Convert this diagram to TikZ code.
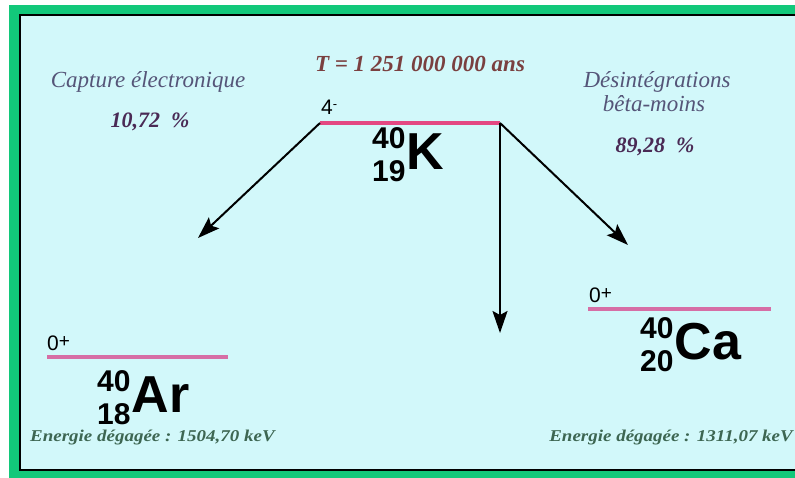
\documentclass[tikz,border=0pt]{standalone}
\usepackage{fontspec}
\setmainfont{Liberation Serif}
\setsansfont{Liberation Sans}
\newfontfamily\wideserif[FakeStretch=1.15]{Liberation Serif}
\usetikzlibrary{arrows.meta,positioning}

\definecolor{framegreen}{RGB}{18,200,122}
\definecolor{bgcyan}{RGB}{210,248,250}
\definecolor{kpink}{RGB}{228,72,130}
\definecolor{levelpink}{RGB}{214,110,165}
\definecolor{modeblue}{RGB}{85,85,120}
\definecolor{ratepurple}{RGB}{74,42,85}
\definecolor{titlebrown}{RGB}{122,64,64}
\definecolor{energygreen}{RGB}{61,102,82}

% noyau : masse / numero atomique / symbole
\newcommand{\nuclide}[3]{{\fontsize{30}{30}\selectfont\raisebox{21pt}{#1}\llap{\raisebox{-12pt}{#2}}}\kern1pt{\fontsize{52}{52}\selectfont #3}}

\begin{document}
\begin{tikzpicture}[
    x=1pt, y=1pt,
    node distance=4pt,
    level/.style={line width=3.5pt, draw=levelpink},
    klevel/.style={line width=3.5pt, draw=kpink},
    decay/.style={-{Stealth[length=22pt,width=15pt,inset=4pt]}, line width=2pt},
    nucl/.style={inner sep=0pt, anchor=base west, font=\sffamily\bfseries},
    spin/.style={inner sep=0pt, anchor=base west, font=\sffamily\fontsize{21}{21}\selectfont},
    mode/.style={inner sep=0pt, anchor=base, text=modeblue, font=\itshape\fontsize{23}{23}\selectfont},
    rate/.style={inner sep=0pt, anchor=base, text=ratepurple, font=\bfseries\itshape\fontsize{22}{22}\selectfont},
    energy/.style={inner sep=0pt, text=energygreen, font=\wideserif\bfseries\itshape\fontsize{16.5}{16.5}\selectfont}
]
    \useasboundingbox (0,0) rectangle (795,478);
    \fill[framegreen] (9,0) rectangle (795,473);
    \filldraw[fill=bgcyan, draw=black, line width=2.5pt] (20,8) rectangle (805,463);

    % niveaux
    \coordinate (kL) at (320,355);
    \coordinate (kR) at (500,355);
    \coordinate (arL) at (47,121);
    \coordinate (arR) at (228,121);
    \coordinate (caL) at (588,169);
    \coordinate (caR) at (771,169);
    \draw[klevel] (kL) -- (kR);
    \draw[level] (arL) -- (arR);
    \draw[level] (caL) -- (caR);

    \node[spin] (kspin) at (321,363) {4\raisebox{6pt}{\fontsize{13}{13}\selectfont -}};
    \node[spin] (arspin) at (47,127) {0\raisebox{3pt}{\fontsize{19}{19}\selectfont +}};
    \node[spin] (caspin) at (589,175) {0\raisebox{3pt}{\fontsize{19}{19}\selectfont +}};

    \node[nucl] (potassium) at (372,308) {\nuclide{40}{19}{K}};
    \node[nucl] (argon) at (97,65) {\nuclide{40}{18}{Ar}};
    \node[nucl] (calcium) at (640,118) {\nuclide{40}{20}{Ca}};

    % textes
    \node[inner sep=0pt, anchor=base, text=titlebrown, font=\bfseries\itshape\fontsize{23}{23}\selectfont] (period) at (420,406) {T = 1 251 000 000 ans};
    \node[mode] (capture) at (148,390) {Capture électronique};
    \node[rate] (ecrate) at (150,350) {10,72~~\%};
    \node[mode] (betaone) at (657,390) {Désintégrations};
    \node[mode] (betatwo) at (654,366) {bêta-moins};
    \node[rate] (betarate) at (655,325) {89,28~~\%};
    \node[energy, anchor=base west] (arenergy) at (30,36) {Energie dégagée : 1504,70 keV};
    \node[energy, anchor=base east] (caenergy) at (793,36) {Energie dégagée : 1311,07 keV};

    % desintegrations
    \coordinate (ecTip) at (198,240);
    \coordinate (betaTip) at (500,145);
    \coordinate (caTip) at (628,233);
    \draw[decay] (kL) -- (ecTip);
    \draw[decay] (kR) -- (betaTip);
    \draw[decay] (kR) -- (caTip);
\end{tikzpicture}
\end{document}
